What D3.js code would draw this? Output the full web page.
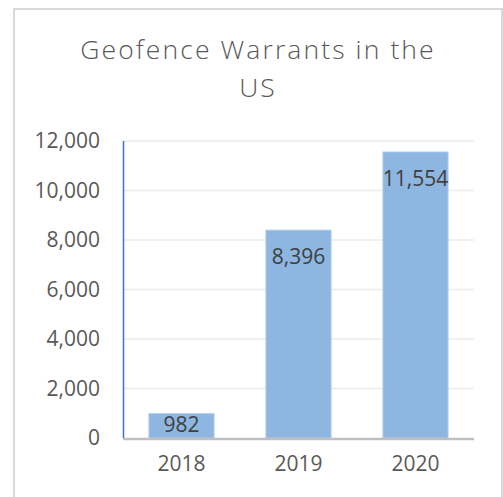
<!DOCTYPE html>
<html>
<head>
<meta charset="utf-8">
<script src="https://cdn.jsdelivr.net/npm/d3@7"></script>
<style>
  html, body { margin: 0; padding: 0; background: #fff; }
  svg { display: block; }
  text { font-family: "Open Sans", "Noto Sans", sans-serif; }
</style>
</head>
<body>
<svg id="chart"></svg>
<script>
// data
const years = ['2018', '2019', '2020'];
const warrants = [982, 8396, 11554];
const yTicks = [0, 2000, 4000, 6000, 8000, 10000, 12000];
const titleLines = ['Geofence Warrants in the', 'US'];

const W = 503, H = 497;
const margin = {top: 141, right: 29, bottom: 59, left: 123};

const svg = d3.select('#chart')
    .attr('width', W)
    .attr('height', H);

// outer frame
svg.append('rect')
    .attr('x', 14).attr('y', 9)
    .attr('width', 488).attr('height', H + 10)
    .attr('fill', '#fff')
    .attr('stroke', '#d9d9d9')
    .attr('stroke-width', 2);

const x = d3.scaleBand()
    .domain(years)
    .range([margin.left, W - margin.right])
    .paddingInner(0.444)
    .paddingOuter(0.222);

const y = d3.scaleLinear()
    .domain([0, 12000])
    .range([H - margin.bottom, margin.top]);

// title
svg.append('g')
    .selectAll('text')
    .data(titleLines)
    .join('text')
    .attr('x', 258)
    .attr('y', (d, i) => 59 + i * 38)
    .attr('text-anchor', 'middle')
    .attr('fill', '#595959')
    .style('font-size', '26.5px')
    .style('font-weight', 300)
    .style('letter-spacing', '2.1px')
    .text(d => d);

// gridlines
svg.append('g')
    .selectAll('line')
    .data(yTicks.filter(d => d > 0))
    .join('line')
    .attr('x1', margin.left).attr('x2', W - margin.right)
    .attr('y1', d => y(d)).attr('y2', d => y(d))
    .attr('stroke', '#ececec')
    .attr('stroke-width', 1.5);

// y axis labels
const yAxis = svg.append('g')
    .attr('transform', `translate(${margin.left},0)`)
    .call(d3.axisLeft(y).tickValues(yTicks).tickFormat(d3.format(',')).tickSize(0).tickPadding(23));
yAxis.select('.domain').remove();
yAxis.selectAll('text')
    .attr('fill', '#595959')
    .style('font-size', '21px')
    .style('font-family', '"Open Sans", "Noto Sans", sans-serif');

// bars
svg.append('g')
    .selectAll('rect')
    .data(warrants)
    .join('rect')
    .attr('x', (d, i) => x(years[i]))
    .attr('y', d => y(d))
    .attr('width', x.bandwidth())
    .attr('height', d => y(0) - y(d))
    .attr('fill', '#8db6e1')
    .attr('stroke', '#a9c8ea')
    .attr('stroke-width', 1);

// value labels
svg.append('g')
    .selectAll('text')
    .data(warrants)
    .join('text')
    .attr('x', (d, i) => x(years[i]) + x.bandwidth() / 2)
    .attr('y', d => Math.min(y(d) + 34, (y(d) + y(0)) / 2 + 6))
    .attr('text-anchor', 'middle')
    .attr('fill', '#404040')
    .style('font-size', '21px')
    .text(d => d3.format(',')(d));

// x axis
const xAxis = svg.append('g')
    .attr('transform', `translate(0,${y(0)})`)
    .call(d3.axisBottom(x).tickSize(0).tickPadding(18));
xAxis.select('.domain')
    .attr('stroke', '#bfbfbf')
    .attr('stroke-width', 2.5)
    .attr('d', `M${margin.left},1H${W - margin.right}`);
xAxis.selectAll('text')
    .attr('fill', '#595959')
    .style('font-size', '21px')
    .style('font-family', '"Open Sans", "Noto Sans", sans-serif');

// y axis line
svg.append('line')
    .attr('x1', margin.left + 0.5).attr('x2', margin.left + 0.5)
    .attr('y1', y(12000)).attr('y2', y(0))
    .attr('stroke', '#4472c4')
    .attr('stroke-width', 1.5);
</script>
</body>
</html>
